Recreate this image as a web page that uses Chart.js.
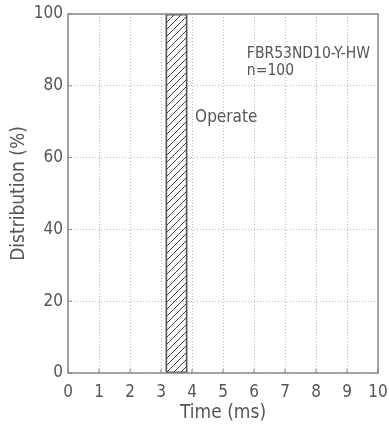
<!DOCTYPE html>
<html>
<head>
<meta charset="utf-8">
<script src="https://cdn.jsdelivr.net/npm/chart.js@4.4.0/dist/chart.umd.min.js"></script>
<style>
  html, body { margin: 0; padding: 0; background: #fff; }
  #wrap { width: 389px; height: 433px; }
</style>
</head>
<body>
<div id="wrap"><canvas id="chart"></canvas></div>
<script>
// data
const timeTicks = [0, 1, 2, 3, 4, 5, 6, 7, 8, 9, 10];
const distTicks = [0, 20, 40, 60, 80, 100];
const operateRange = [3.15, 3.85];   // ms, hatched band
const bandLabels = ["Operate"];
const modelName = "FBR53ND10-Y-HW";
const sampleText = "n=100";

const FONT = "'DejaVu Sans Condensed', 'DejaVu Sans', sans-serif";
const TEXT = "#555";

// diagonal hatch
function hatch() {
  const s = 7;
  const c = document.createElement('canvas');
  c.width = s; c.height = s;
  const g = c.getContext('2d');
  g.strokeStyle = '#444';
  g.lineWidth = 1;
  g.beginPath();
  g.moveTo(0, s); g.lineTo(s, 0);
  g.moveTo(-1, 1); g.lineTo(1, -1);
  g.moveTo(s - 1, s + 1); g.lineTo(s + 1, s - 1);
  g.stroke();
  return document.getElementById('chart').getContext('2d').createPattern(c, 'repeat');
}

// frame, inner ticks and notes
const extras = {
  id: 'extras',
  afterDraw(chart) {
    const { ctx, chartArea: a, scales } = chart;
    ctx.save();
    ctx.strokeStyle = '#888';
    ctx.lineWidth = 1.5;
    ctx.strokeRect(a.left, a.top, a.right - a.left, a.bottom - a.top);
    ctx.lineWidth = 1;
    ctx.beginPath();
    timeTicks.forEach(t => {
      const x = scales.x.getPixelForValue(t);
      ctx.moveTo(x, a.bottom); ctx.lineTo(x, a.bottom - 4);
    });
    distTicks.forEach(v => {
      const y = scales.y.getPixelForValue(v);
      ctx.moveTo(a.left, y); ctx.lineTo(a.left + 4, y);
    });
    ctx.stroke();

    ctx.fillStyle = TEXT;
    ctx.font = "15.5px " + FONT;
    ctx.textBaseline = 'middle';
    ctx.fillText(modelName, scales.x.getPixelForValue(5.77), scales.y.getPixelForValue(88.9));
    ctx.fillText(sampleText, scales.x.getPixelForValue(5.77), scales.y.getPixelForValue(84.2));
    ctx.font = "17px " + FONT;
    ctx.fillText(bandLabels[0], scales.x.getPixelForValue(4.1), scales.y.getPixelForValue(71.1));
    ctx.restore();
  }
};

const gridStyle = { color: '#bbb', lineWidth: 1, drawTicks: false, offset: false };

new Chart(document.getElementById('chart'), {
  type: 'bar',
  data: {
    labels: bandLabels,
    datasets: [{
      data: [operateRange],
      yAxisID: 'band',
      backgroundColor: hatch(),
      borderColor: '#555',
      borderWidth: 1.2,
      borderSkipped: false,
      barPercentage: 1,
      categoryPercentage: 1
    }]
  },
  plugins: [extras],
  options: {
    indexAxis: 'y',
    responsive: true,
    maintainAspectRatio: false,
    animation: false,
    layout: { padding: { left: 0, right: 11, top: 14, bottom: 0 } },
    plugins: { legend: { display: false }, tooltip: { enabled: false } },
    scales: {
      x: {
        type: 'linear',
        min: 0, max: 10,
        offset: false,
        afterBuildTicks: s => { s.ticks = timeTicks.map(v => ({ value: v })); },
        afterFit: s => { s.height = 60; s.paddingLeft = 0; s.paddingRight = 0; },
        grid: gridStyle,
        border: { display: false, dash: [1, 2] },
        ticks: { color: TEXT, font: { family: FONT, size: 17 }, padding: 9, maxRotation: 0 },
        title: { display: true, text: 'Time (ms)', color: TEXT, font: { family: FONT, size: 19 }, padding: { top: 0, bottom: 9 } }
      },
      y: {
        type: 'linear',
        position: 'left',
        min: 0, max: 100,
        offset: false,
        afterBuildTicks: s => { s.ticks = distTicks.map(v => ({ value: v })); },
        afterFit: s => { s.width = 68; s.paddingTop = 0; s.paddingBottom = 0; },
        grid: gridStyle,
        border: { display: false, dash: [1, 2] },
        ticks: { color: TEXT, font: { family: FONT, size: 17 }, padding: 5 },
        title: { display: true, text: 'Distribution (%)', color: TEXT, font: { family: FONT, size: 19 }, padding: { top: 8, bottom: 0 } }
      },
      band: {
        type: 'category',
        display: false,
        offset: true
      }
    }
  }
});
</script>
</body>
</html>
